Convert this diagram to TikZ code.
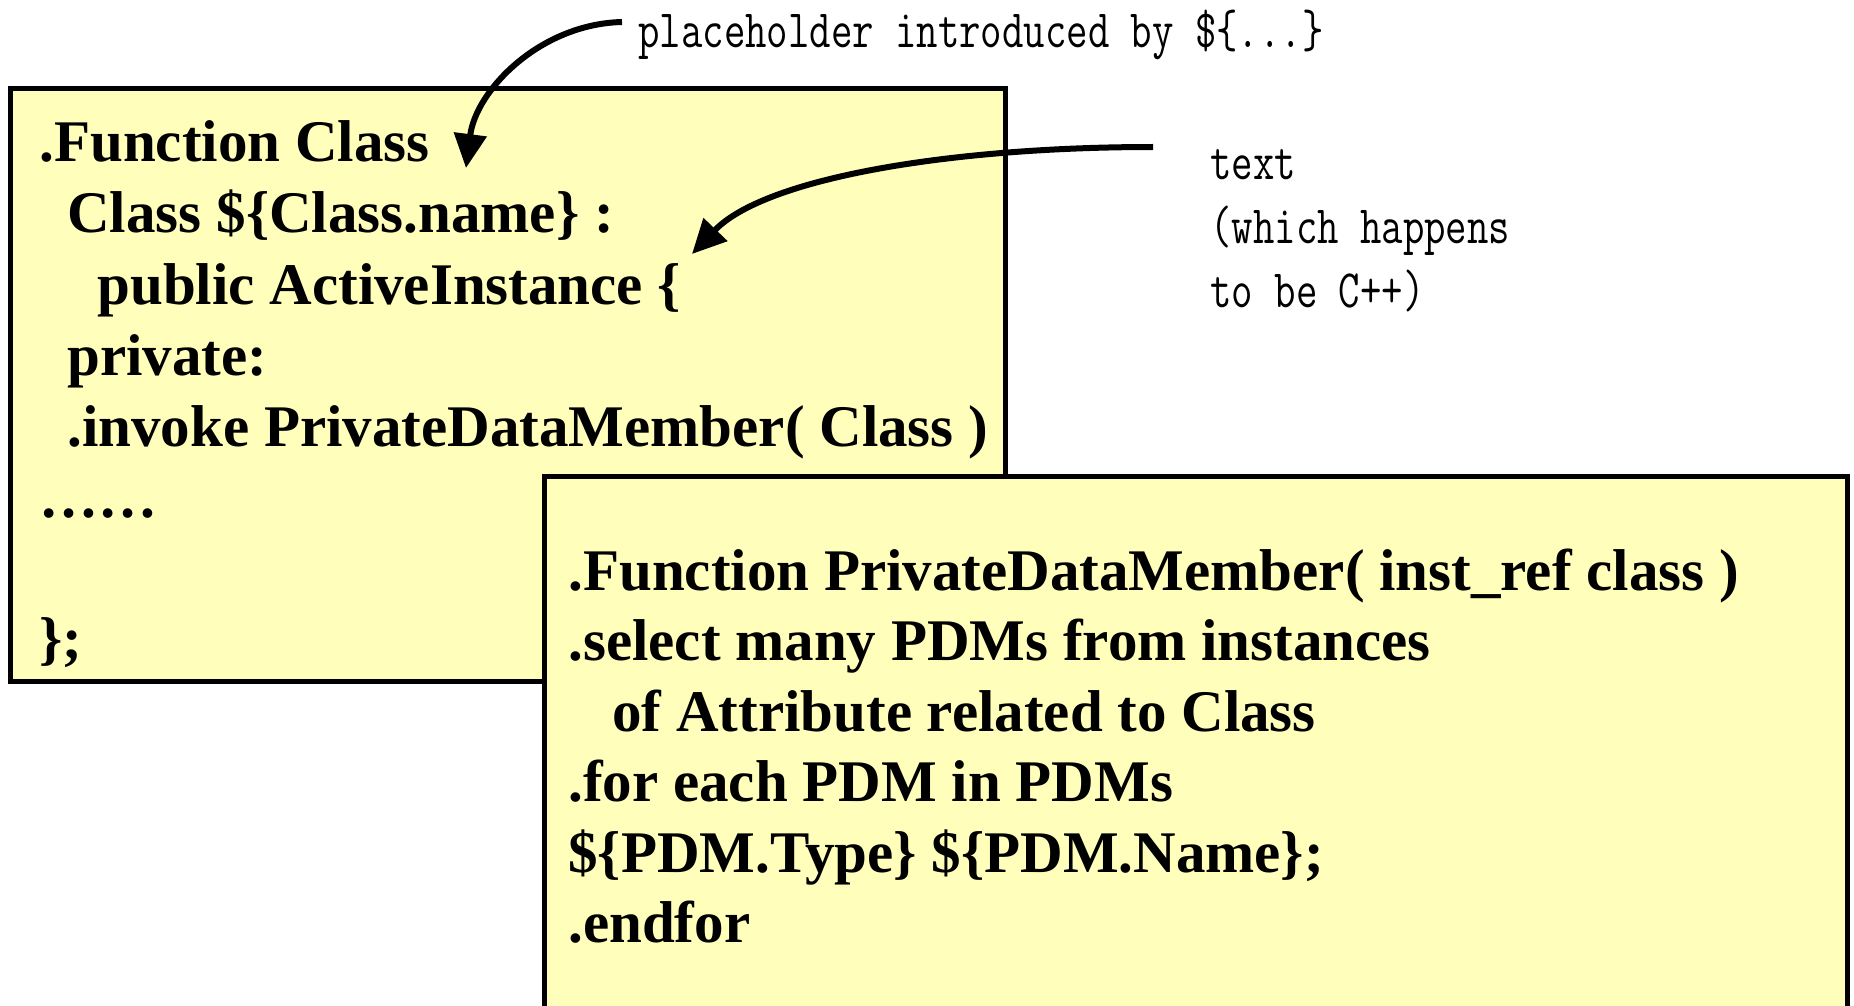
\documentclass[tikz,border=0pt]{standalone}
\usepackage{fontspec}
\setmainfont{Liberation Serif}
\newfontfamily\annotfont[FakeStretch=0.77]{Latin Modern Mono}
\usetikzlibrary{arrows.meta}
\definecolor{boxfill}{RGB}{255,255,187}
\tikzset{
  codebox/.style={draw=black, line width=2.5pt, fill=boxfill},
  codeline/.style={anchor=base west, inner sep=0pt, font=\fontsize{29.5pt}{35.5pt}\selectfont\bfseries},
  annot/.style={anchor=base west, inner sep=0pt, font=\annotfont\fontsize{27pt}{32pt}\selectfont},
  callout/.style={line width=3pt, -{Triangle[length=17pt,width=16pt]}},
}
\begin{document}
\begin{tikzpicture}[x=0.5pt,y=-0.5pt]
\useasboundingbox (0,0) rectangle (1854,1006);
\clip (0,0) rectangle (1854,1006);
% first box
\draw[codebox] (10,89) rectangle (1005,681);
\node[codeline] (a1) at (39,162) {.Function Class};
\node[codeline] (a2) at (67,233) {Class \$\{Class.name\} :};
\node[codeline] (a3) at (97,304) {public ActiveInstance \{};
\node[codeline] (a4) at (67,375) {private:};
\node[codeline] (a5) at (67,446) {.invoke PrivateDataMember( Class )};
\node[codeline] (a6) at (39,517) {……};
\node[codeline] (a7) at (39,658) {\};};
% second box
\draw[codebox] (544,476) rectangle (1847,1040);
\node[codeline] (b1) at (568,590) {.Function PrivateDataMember( inst\_ref class )};
\node[codeline] (b2) at (568,660) {.select many PDMs from instances};
\node[codeline] (b3) at (612,731) {of Attribute related to Class};
\node[codeline] (b4) at (568,801) {.for each PDM in PDMs};
\node[codeline] (b5) at (568,872) {\$\{PDM.Type\} \$\{PDM.Name\};};
\node[codeline] (b6) at (568,942) {.endfor};
% annotations
\node[annot] (p) at (638,48) {placeholder introduced by \$\{...\}};
\node[annot] (t1) at (1210,180) {text};
\node[annot] (t2) at (1210,243) {(which happens};
\node[annot] (t3) at (1210,307) {to be C++)};
\coordinate (p0) at (622,22);
\coordinate (p1) at (466,168);
\coordinate (q0) at (1153,147);
\coordinate (q1) at (692,254);
\draw[callout] (p0) .. controls (540,24) and (476,90) .. (p1);
\draw[callout] (q0) .. controls (950,147) and (765,178) .. (q1);
\end{tikzpicture}
\end{document}
